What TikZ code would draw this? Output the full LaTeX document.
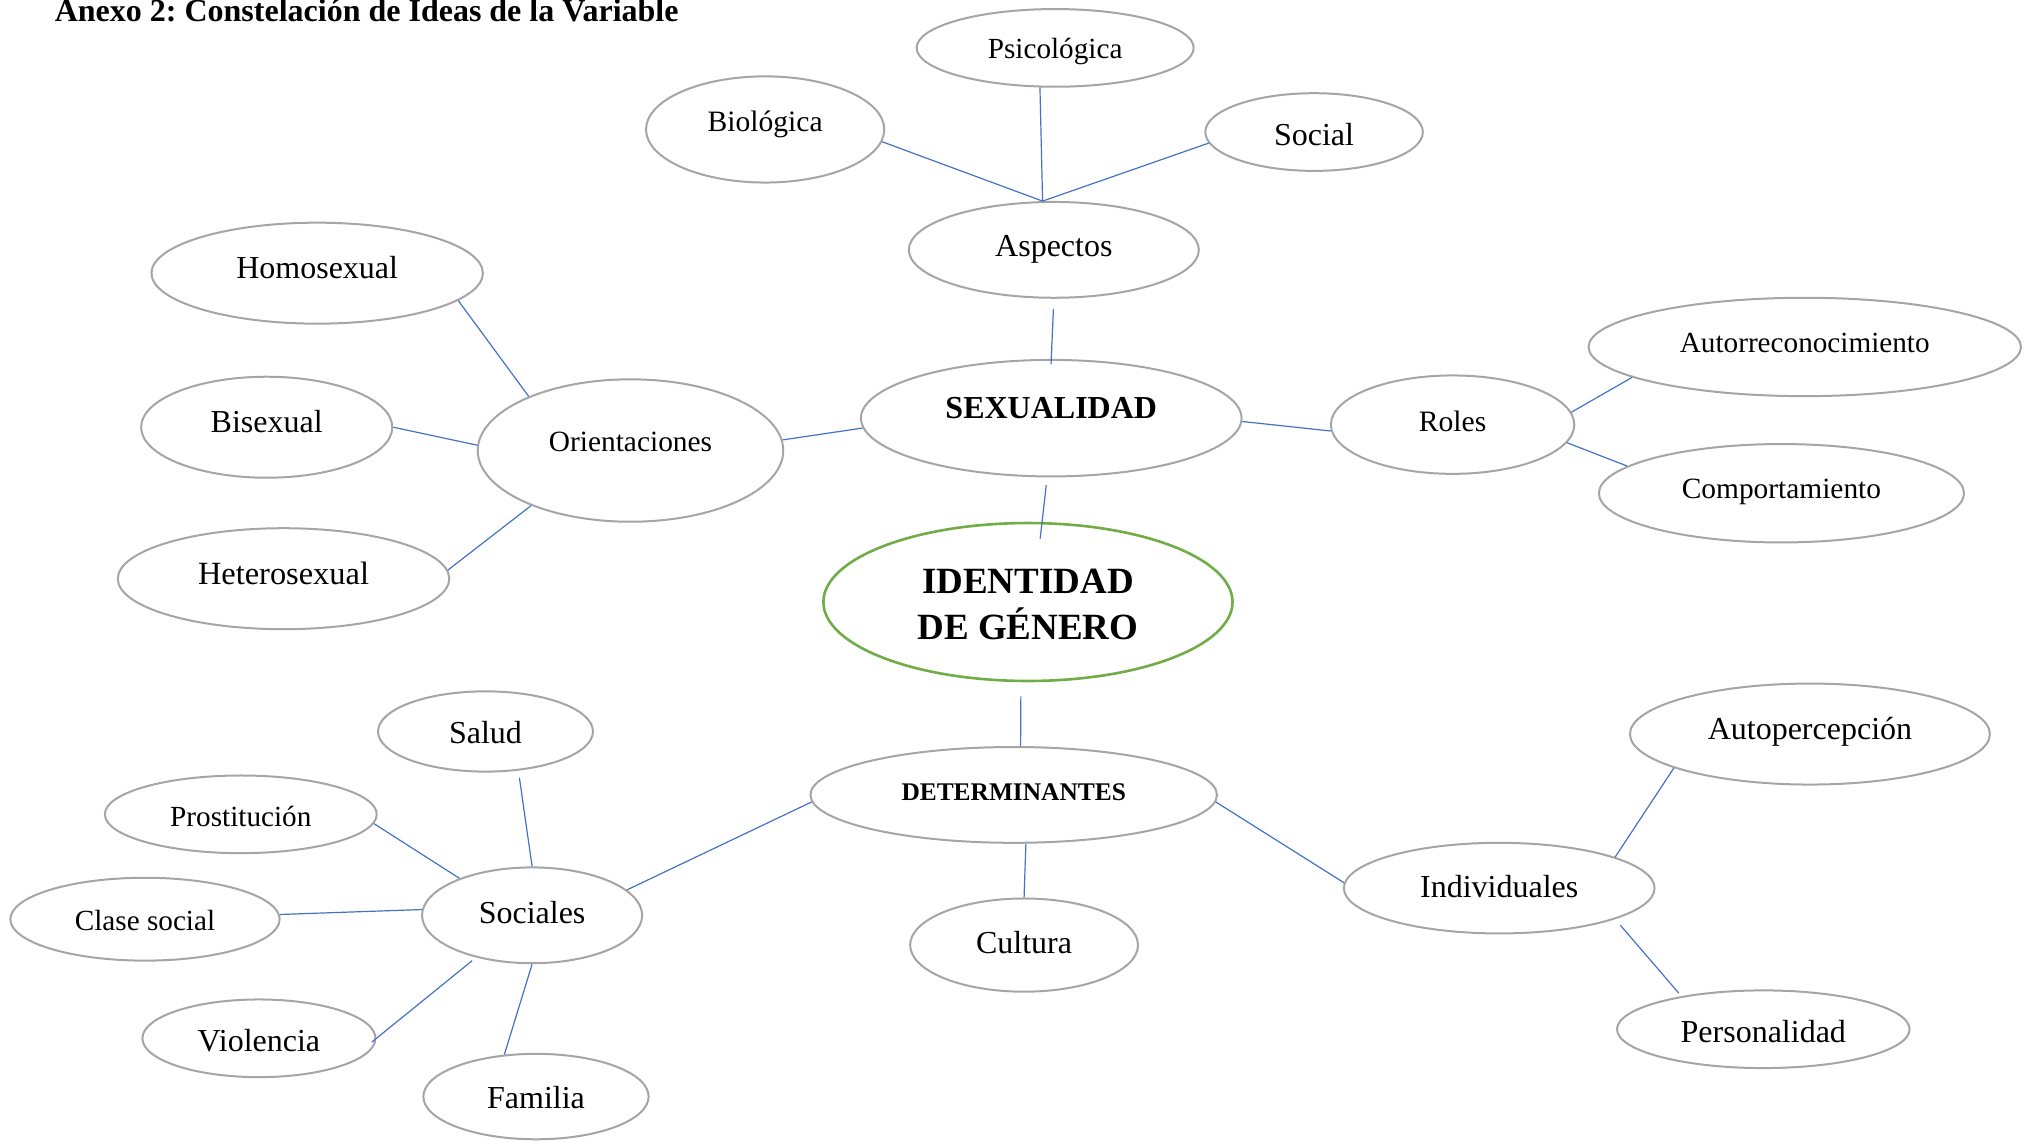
\documentclass[tikz,border=0pt]{standalone}
\usepackage{fontspec}
\setmainfont{Liberation Serif}
\usetikzlibrary{shapes.geometric}
\definecolor{bgray}{HTML}{A5A5A5}
\definecolor{lblue}{HTML}{4472C4}
\definecolor{lgreen}{HTML}{70AD47}
\tikzset{
  bub/.style={ellipse, draw=bgray, line width=1pt, inner sep=0pt},
  con/.style={draw=lblue, line width=0.6pt},
  txt/.style={inner sep=0pt, text height=0.7em, text depth=0pt},
}
\newcommand\bubnode[8]{%
  \node[bub, minimum width=#4*0.6473pt, minimum height=#5*0.6473pt] (#1) at (#2,#3) {};
  \node[txt, font=\fontsize{#6}{#6}\selectfont] (#1t) at (#2,#8+3) {#7};
}
\frenchspacing
\begin{document}
\begin{tikzpicture}[x=0.6473pt, y=-0.6473pt]
\useasboundingbox (0,0) rectangle (1568,881);
\node[anchor=base west, inner sep=0pt, font=\bfseries\fontsize{16}{19}\selectfont] (tit) at (42,16.5) {Anexo 2: Constelación de Ideas de la Variable};

\bubnode{psi}{815}{37}{214}{60}{14.6}{Psicológica}{37}
\bubnode{bio}{591}{100}{184}{82}{14.8}{Biológica}{93}
\bubnode{soc}{1015}{102}{168}{60}{16}{Social}{104}
\bubnode{asp}{814}{193}{224}{74}{16}{Aspectos}{190}
\bubnode{hom}{245}{211}{256}{78}{16}{Homosexual}{207}
\bubnode{bis}{206}{330}{194}{78}{16}{Bisexual}{326}
\bubnode{het}{219}{447}{256}{78}{16.2}{Heterosexual}{443}
\bubnode{ori}{487}{348}{236}{110}{14.7}{Orientaciones}{340}
\bubnode{sex}{812}{323}{294}{90}{16}{\bfseries SEXUALIDAD}{315}
\bubnode{rol}{1122}{328}{188}{76}{14.8}{Roles}{325}
\bubnode{aut}{1394}{268}{334}{76}{14.6}{Autorreconocimiento}{264}
\bubnode{com}{1376}{381}{282}{76}{14.7}{Comportamiento}{377}
\bubnode{det}{783}{614}{314}{74}{12.7}{\bfseries DETERMINANTES}{610}
\bubnode{cul}{791}{730}{176}{72}{16}{Cultura}{728}
\bubnode{ind}{1158}{686}{240}{70}{16}{Individuales}{685}
\bubnode{ape}{1398}{567}{278}{78}{16}{Autopercepción}{563}
\bubnode{per}{1362}{795}{226}{60}{16}{Personalidad}{797}
\bubnode{sal}{375}{565}{166}{62}{16}{Salud}{566}
\bubnode{pro}{186}{629}{210}{60}{14.6}{Prostitución}{630}
\bubnode{cls}{112}{710}{208}{64}{14.6}{Clase social}{710}
\bubnode{scs}{411}{707}{170}{74}{16}{Sociales}{705}
\bubnode{vio}{200}{802}{180}{60}{16}{Violencia}{804}
\bubnode{fam}{414}{847}{174}{66}{16}{Familia}{848}

\node[ellipse, draw=lgreen, line width=1.3pt, inner sep=0pt, minimum width=316*0.6473pt, minimum height=122*0.6473pt] (ide) at (794,465) {};
\node[align=center, inner sep=0pt, font=\bfseries\fontsize{18.5}{23.3}\selectfont] (idet) at (794,467) {IDENTIDAD\\DE GÉNERO};

\draw[con] (psi.249) -- (asp.103);
\draw[con] (bio.354) -- (asp.103);
\draw[con] (soc.186) -- (asp.103);
\draw[con, shorten <=5.2pt, shorten >=-2.6pt] (asp.south) -- (sex.north);
\draw[con] (hom.349) -- (ori.152);
\draw[con] (bis.east) -- (ori.178);
\draw[con] (het.3) -- (ori.209);
\draw[con] (ori.4) -- (sex.183);
\draw[con] (sex.359) -- (rol.183);
\draw[con] (rol.6) -- (aut.190);
\draw[con] (rol.351) -- (com.170);
\draw[con, shorten <=3.9pt, shorten >=-8.4pt] (sex.266) -- (ide.80);
\draw[con, shorten <=7.1pt] (ide.265) -- (det.82);
\draw[con] (det.284) -- (cul.north);
\draw[con] (det.182) -- (scs.15);
\draw[con] (det.358) -- (ind.178);
\draw[con] (ind.15) -- (ape.194);
\draw[con, shorten <=4pt, shorten >=2pt] (ind.345) -- (per.158);
\draw[con, shorten <=3.5pt] (sal.310) -- (scs.north);
\draw[con] (pro.356) -- (scs.153);
\draw[con] (cls.2) -- (scs.177);
\draw[con, shorten <=-3pt, shorten >=2.5pt] (vio.east) -- (scs.217);
\draw[con] (fam.127) -- (scs.south);
\end{tikzpicture}
\end{document}
